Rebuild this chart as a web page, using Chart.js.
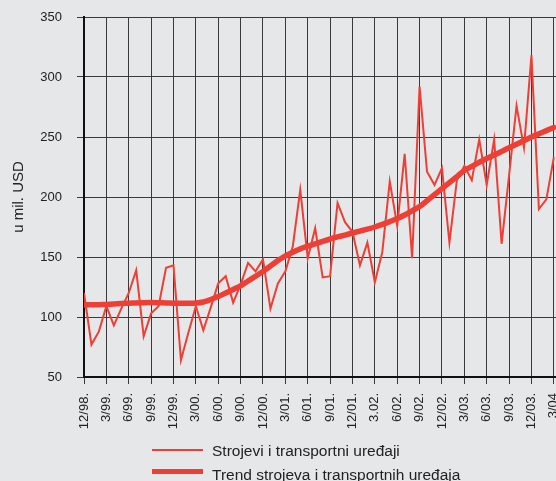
<!DOCTYPE html>
<html><head><meta charset="utf-8">
<script src="https://cdn.jsdelivr.net/npm/chart.js@4/dist/chart.umd.min.js"></script>
<style>
html,body{margin:0;padding:0;background:#e6e7e9;overflow:hidden;}
#wrap{position:relative;width:556px;height:481px;overflow:hidden;background:#e6e7e9;}
#c{position:absolute;left:0;top:0;}
.sw{position:absolute;left:152px;width:51px;background:#ee3f36;}
.lt{position:absolute;left:212px;font:15.5px "Liberation Sans",Arial,sans-serif;line-height:18px;color:#222;white-space:nowrap;}
</style></head>
<body>
<div id="wrap">
<canvas id="c" width="600" height="481" style="width:600px;height:481px"></canvas>
<div class="sw" style="top:449px;height:2px"></div>
<div class="lt" style="top:442px">Strojevi i transportni uređaji</div>
<div class="sw" style="top:469px;height:5px"></div>
<div class="lt" style="top:466px">Trend strojeva i transportnih uređaja</div>
</div>
<script>
// monthly values, 12/98 .. 3/04
const values = [120,77,88,109,93,107,120,139,84,103,109,141,143,64,87,109,89,108,128,134,112,127,145,138,148,107,128,138,159,206,149,174,133,134,195,179,171,143,162,129,154,213,176,236,149,292,221,210,224,162,214,226,214,248,210,248,161,218,276,241,318,190,198,233];
const trend = [110,110.2,110.3,110.5,110.8,111.2,111.5,111.7,111.9,112,111.9,111.7,111.5,111.4,111.4,111.6,112.5,114.5,117,120,123,126,130,134,138,142.5,147,151,154,156.8,159,161,163,165,166.7,168.3,170,171.6,173.2,175,177.2,179.5,182,185,188.5,192,197,202,207,212,217,222,225.5,229,232,235,238,241,244,247,250,252.7,255.3,258];
const tickLabels = ["12/98.","3/99.","6/99.","9/99.","12/99.","3/00.","6/00.","9/00.","12/00.","3/01.","6/01.","9/01.","12/01.","3.02.","6/02.","9/02.","12/02.","3/03.","6/03.","9/03.","12/03.","3/04"];
const seriesNames = ["Strojevi i transportni uređaji","Trend strojeva i transportnih uređaja"];
const yTicks = [50,100,150,200,250,300,350];

const RED = '#ee3f36';
const FONT = '"Liberation Sans", Arial, sans-serif';
new Chart(document.getElementById('c'), {
  type: 'line',
  data: {
    datasets: [
      { label: seriesNames[1], data: trend.map((v,i)=>({x:i,y:v})), borderColor: RED, borderWidth: 5.5, pointRadius: 0, tension: 0.3, borderCapStyle:'round', borderJoinStyle:'round' },
      { label: seriesNames[0], data: values.map((v,i)=>({x:i,y:v})), borderColor: RED, borderWidth: 2, pointRadius: 0, tension: 0 }
    ]
  },
  options: {
    responsive: false, animation: false, devicePixelRatio: 1,
    layout: { padding: { top: 17, right: 30, bottom: 0, left: 0 } },
    plugins: { legend: { display: false }, tooltip: { enabled: false } },
    scales: {
      x: {
        type: 'linear', min: 0, max: 65.17,
        afterBuildTicks: s => { s.ticks = tickLabels.map((_,k)=>({value:k*3})); },
        afterFit: s => { s.height = 104; },
        ticks: { callback: (v) => tickLabels[Math.round(v/3)], minRotation: 90, maxRotation: 90, autoSkip: false, padding: 9, color: '#222', font: { family: FONT, size: 13 } },
        grid: { color: '#3a3a3a', lineWidth: 1, tickLength: 7 },
        border: { color: '#111', width: 2 }
      },
      y: {
        min: 50, max: 350,
        afterBuildTicks: s => { s.ticks = yTicks.map(v=>({value:v})); },
        afterFit: s => { s.width = 84; s.paddingTop = 0; s.paddingBottom = 0; },
        ticks: { padding: 15, color: '#222', font: { family: FONT, size: 13 } },
        grid: { color: '#3a3a3a', lineWidth: 1, tickLength: 7 },
        border: { color: '#111', width: 2 },
        title: { display: true, text: 'u mil. USD', color: '#222', font: { family: FONT, size: 15 }, padding: { top: 10, bottom: 0 } }
      }
    }
  }
});
</script>
</body></html>
